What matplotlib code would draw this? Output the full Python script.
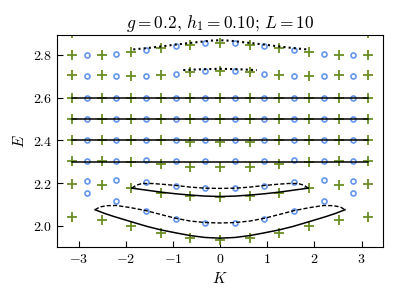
import matplotlib
matplotlib.use("Agg")
import matplotlib.pyplot as plt
from matplotlib.ticker import FuncFormatter

plt.rcParams['mathtext.fontset'] = 'cm'
plt.rcParams['font.family'] = 'serif'
plt.rcParams['font.serif'] = ['DejaVu Serif']

# momenta
K_plus = [-3.1416, -2.5133, -1.8850, -1.2566, -0.6283, 0.0, 0.6283, 1.2566, 1.8850, 2.5133, 3.1416]
K_circ = [-2.8274, -2.1991, -1.5708, -0.9425, -0.3142, 0.3142, 0.9425, 1.5708, 2.1991, 2.8274]

# green plus levels (one list per row)
plus_rows = [
    [2.800, 2.800, 2.815, 2.832, 2.848, 2.855, 2.848, 2.832, 2.815, 2.800, 2.800],
    [2.708, 2.706, 2.703, 2.705, 2.721, 2.726, 2.721, 2.705, 2.703, 2.706, 2.708],
    [2.600, 2.600, 2.600, 2.600, 2.600, 2.600, 2.600, 2.600, 2.600, 2.600, 2.600],
    [2.500, 2.500, 2.500, 2.500, 2.500, 2.500, 2.500, 2.500, 2.500, 2.500, 2.500],
    [2.400, 2.400, 2.400, 2.400, 2.392, 2.392, 2.392, 2.400, 2.400, 2.400, 2.400],
    [2.301, 2.301, 2.298, 2.290, 2.277, 2.277, 2.277, 2.290, 2.298, 2.301, 2.301],
    [2.195, 2.189, 2.175, 2.152, 2.140, 2.137, 2.140, 2.152, 2.175, 2.189, 2.195],
    [2.041, 2.028, 1.997, 1.966, 1.942, 1.931, 1.942, 1.966, 1.997, 2.028, 2.041],
]
plus_extra_K = [-3.1416, 3.1416]
plus_extra_E = [2.905, 2.905]

# blue circle levels
circ_rows = [
    [2.800, 2.803, 2.823, 2.843, 2.855, 2.855, 2.843, 2.823, 2.803, 2.800],
    [2.700, 2.700, 2.702, 2.709, 2.723, 2.723, 2.709, 2.702, 2.700, 2.700],
    [2.600, 2.600, 2.600, 2.600, 2.600, 2.600, 2.600, 2.600, 2.600, 2.600],
    [2.500, 2.500, 2.500, 2.500, 2.500, 2.500, 2.500, 2.500, 2.500, 2.500],
    [2.400, 2.400, 2.400, 2.400, 2.400, 2.400, 2.400, 2.400, 2.400, 2.400],
    [2.301, 2.304, 2.309, 2.304, 2.301, 2.301, 2.304, 2.309, 2.304, 2.301],
    [2.211, 2.215, 2.203, 2.188, 2.178, 2.178, 2.188, 2.203, 2.215, 2.211],
    [2.153, 2.114, 2.070, 2.033, 2.014, 2.014, 2.033, 2.070, 2.114, 2.153],
]

# flat band lines
flat_E = [2.6, 2.5, 2.4, 2.3]
flat_K = [-3.1416, 3.1416]

# dotted curves
dot1_K = [-1.84, -1.6, -1.4, -1.2, -1.0, -0.8, -0.6, -0.4, -0.2, 0.0, 0.2, 0.4, 0.6, 0.8, 1.0, 1.2, 1.4, 1.6, 1.84]
dot1_E = [2.826, 2.831, 2.836, 2.841, 2.847, 2.852, 2.857, 2.862, 2.867, 2.869, 2.867, 2.862, 2.857, 2.852, 2.847, 2.841, 2.836, 2.831, 2.826]
dot2_K = [-0.78, -0.5, -0.25, 0.0, 0.25, 0.5, 0.78]
dot2_E = [2.729, 2.732, 2.734, 2.735, 2.734, 2.732, 2.729]

# loop A (upper bound-state band)
loopA_dash_K = [-1.87, -1.78, -1.65, -1.45, -1.2, -0.95, -0.63, -0.32, 0.0, 0.32, 0.63, 0.95, 1.2, 1.45, 1.65, 1.78, 1.87]
loopA_dash_E = [2.176, 2.190, 2.198, 2.198, 2.194, 2.189, 2.181, 2.176, 2.175, 2.176, 2.181, 2.189, 2.194, 2.198, 2.198, 2.190, 2.176]
loopA_solid_K = [-1.87, -1.6, -1.27, -0.95, -0.64, -0.32, 0.0, 0.32, 0.64, 0.95, 1.27, 1.6, 1.87]
loopA_solid_E = [2.176, 2.168, 2.158, 2.150, 2.144, 2.139, 2.137, 2.139, 2.144, 2.150, 2.158, 2.168, 2.176]

# loop B (lower bound-state band)
loopB_dash_K = [-2.65, -2.55, -2.4, -2.2, -1.9, -1.57, -1.26, -0.94, -0.63, -0.31, 0.0, 0.31, 0.63, 0.94, 1.26, 1.57, 1.9, 2.2, 2.4, 2.55, 2.65]
loopB_dash_E = [2.075, 2.088, 2.094, 2.095, 2.085, 2.071, 2.053, 2.035, 2.022, 2.015, 2.013, 2.015, 2.022, 2.035, 2.053, 2.071, 2.085, 2.095, 2.094, 2.088, 2.075]
loopB_solid_K = [-2.65, -2.45, -2.26, -1.9, -1.55, -1.26, -0.92, -0.63, -0.31, 0.0, 0.31, 0.63, 0.92, 1.26, 1.55, 1.9, 2.26, 2.45, 2.65]
loopB_solid_E = [2.075, 2.058, 2.044, 2.020, 1.997, 1.981, 1.966, 1.954, 1.945, 1.942, 1.945, 1.954, 1.966, 1.981, 1.997, 2.020, 2.044, 2.058, 2.075]

GREEN = '#6b8e23'
BLUE = '#6495ed'

fig = plt.figure(figsize=(3.99, 3.0), dpi=100)
ax = fig.add_axes([0.143, 0.177, 0.817, 0.706])

for row in plus_rows:
    ax.plot(K_plus, row, linestyle='none', marker='+', ms=7, mew=1.3, color=GREEN)
ax.plot(plus_extra_K, plus_extra_E, linestyle='none', marker='+', ms=7, mew=1.3, color=GREEN)
for row in circ_rows:
    ax.plot(K_circ, row, linestyle='none', marker='o', ms=3.6, mew=1.2,
            markerfacecolor='none', markeredgecolor=BLUE)

for e in flat_E:
    ax.plot(flat_K, [e, e], color='black', lw=1.1)

ax.plot(dot1_K, dot1_E, color='black', lw=1.5, linestyle=(0, (1, 1.5)))
ax.plot(dot2_K, dot2_E, color='black', lw=1.5, linestyle=(0, (1, 1.5)))
ax.plot(loopA_dash_K, loopA_dash_E, color='black', lw=1.0, linestyle='--', dashes=(3, 1.5))
ax.plot(loopA_solid_K, loopA_solid_E, color='black', lw=1.1)
ax.plot(loopB_dash_K, loopB_dash_E, color='black', lw=1.0, linestyle='--', dashes=(3, 1.5))
ax.plot(loopB_solid_K, loopB_solid_E, color='black', lw=1.1)

ax.set_xlim(-3.456, 3.456)
ax.set_ylim(1.901, 2.893)
ax.set_xticks([-3, -2, -1, 0, 1, 2, 3])
ax.set_yticks([2.0, 2.2, 2.4, 2.6, 2.8])
ax.xaxis.set_major_formatter(FuncFormatter(lambda v, p: r'$%d$' % round(v)))
ax.yaxis.set_major_formatter(FuncFormatter(lambda v, p: r'$%.1f$' % v))
ax.tick_params(direction='in', labelsize=10, length=4, width=0.8)
ax.set_xlabel(r'$K$', fontsize=11)
ax.set_ylabel(r'$E$', fontsize=11)
ax.set_title(r'$g=0.2,\, h_1=0.10;\, L=10$', fontsize=12.5, pad=5)

fig.savefig('out.png', dpi=100)
